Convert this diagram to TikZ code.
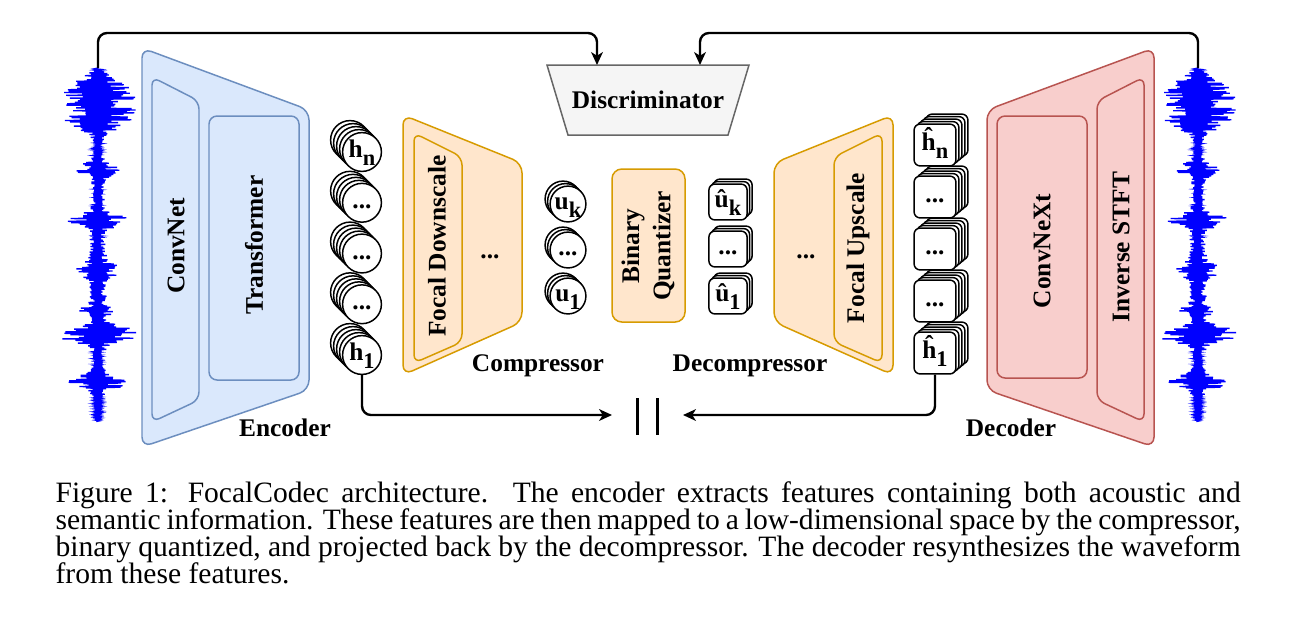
\documentclass[tikz,border=0pt]{standalone}
\usepackage{fontspec}
\setmainfont{Liberation Serif}
\usepackage{tikz}
\usetikzlibrary{arrows.meta,positioning,calc}
\definecolor{encfill}{HTML}{DAE8FC}
\definecolor{encline}{HTML}{6C8EBF}
\definecolor{cmpfill}{HTML}{FFE6CC}
\definecolor{cmpline}{HTML}{D79B00}
\definecolor{decfill}{HTML}{F8CECC}
\definecolor{decline}{HTML}{B85450}
\definecolor{disfill}{HTML}{F5F5F5}
\definecolor{disline}{HTML}{666666}
\definecolor{wavblue}{HTML}{0000FF}
\newcommand{\lblfont}{\fontsize{8.5}{10.5}\selectfont\bfseries}
\newcommand{\subs}[2]{#1\raisebox{-0.3em}{\fontsize{7.5}{8}\selectfont #2}}
\newcommand{\ddd}{...}
% waveform drawn as a zigzag around a vertical axis
\newcommand{\waveform}[2]{%
  \pgfmathsetseed{11}
  \draw[wave] (#1,68) coordinate (#2)
    \foreach \yv [count=\k] in {68.7,69.4,...,422}{
      -- ({#1+ifthenelse(mod(\k,2)==0,1,-1)*wenv(\yv)*(0.65+0.35*rand)},\yv)
    };
}

\begin{document}
\begin{tikzpicture}[x=0.335pt,y=-0.335pt,
  declare function={gb(\yv,\cv,\wv)=exp(-min(((\yv-\cv)/\wv)*((\yv-\cv)/\wv),9));
    gq(\yv,\cv,\wv)=exp(-(min(((\yv-\cv)/\wv)*((\yv-\cv)/\wv),3))^2);
    wenv(\yv)=3+6*gb(\yv,270,100)+36*gq(\yv,104,27)+18*gb(\yv,170,8)+26*gb(\yv,220,7)+18*gb(\yv,270,7)+12*gb(\yv,310,5)+40*gb(\yv,334,9)+29*gb(\yv,382,8);},
  lbl/.style={font=\lblfont,inner sep=0pt},
  rot/.style={lbl,rotate=90},
  wave/.style={wavblue,line width=0.45pt},
  encbox/.style={draw=encline,fill=encfill,line width=0.5pt},
  cmpbox/.style={draw=cmpline,fill=cmpfill,line width=0.5pt},
  decbox/.style={draw=decline,fill=decfill,line width=0.5pt},
  hcirc/.style={circle,draw,fill=white,line width=0.5pt,minimum size=13pt,inner sep=0pt,font=\lblfont,text height=6.3pt,text depth=2.5pt},
  ucirc/.style={hcirc,minimum size=12pt,inner sep=-0.5pt},
  hsq/.style={rectangle,draw,fill=white,line width=0.5pt,rounded corners=2pt,minimum width=14pt,minimum height=14pt,inner sep=0pt,font=\lblfont,text height=6.3pt,text depth=2.5pt},
  usq/.style={hsq,minimum width=12.8pt,minimum height=12pt},
  fb/.style={draw,line width=0.8pt,rounded corners=3pt,-{Stealth[length=4.3pt,width=3.9pt,inset=1.2pt]}},
  capt/.style={text width=397pt,align=justify,inner sep=0pt,font=\fontsize{9.9}{9.05}\selectfont}]

\fill[white] (0,0) rectangle (1297,638);
\useasboundingbox (0,0) rectangle (1297,638);

%Encoder
\draw[encbox,rounded corners=3.3pt] (142,48) -- (309,110) -- (309,390) -- (142,447) -- cycle;
\draw[encbox,rounded corners=2.7pt] (152,77) -- (199,101) -- (199,400) -- (152,422) -- cycle;
\draw[encbox,rounded corners=2.7pt] (209,116) rectangle (299,380);
\node[rot] (convnet) at (176,246) {ConvNet};
\node[rot] (transf) at (254,245) {Transformer};
\node[lbl] (enc) at (285,428) {Encoder};

%Compressor
\draw[cmpbox,rounded corners=3.3pt] (403,115) -- (522,163) -- (522,322) -- (403,375) -- cycle;
\draw[cmpbox,rounded corners=2.7pt] (414,133) -- (462,157) -- (462,342) -- (414,363) -- cycle;
\node[rot] (fdown) at (437,246) {Focal Downscale};
\node[lbl] (cdots) at (490,257) {\ddd};
\node[lbl] (comp) at (538,366) {Compressor};

%Quantizer
\draw[cmpbox,rounded corners=3.3pt] (612,169) rectangle (685,322);
\node[rot,align=center] (bq) at (648,246) {Binary\\Quantizer};

%Decompressor
\draw[cmpbox,rounded corners=3.3pt] (893,115) -- (774,163) -- (774,322) -- (893,375) -- cycle;
\draw[cmpbox,rounded corners=2.7pt] (882,133) -- (834,157) -- (834,342) -- (882,363) -- cycle;
\node[rot] (fup) at (858,248) {Focal Upscale};
\node[lbl] (ddots) at (806,257) {\ddd};
\node[lbl] (decomp) at (750,366) {Decompressor};

%Decoder
\draw[decbox,rounded corners=3.3pt] (1154,48) -- (987,110) -- (987,390) -- (1154,447) -- cycle;
\draw[decbox,rounded corners=2.7pt] (1144,77) -- (1097,101) -- (1097,400) -- (1144,422) -- cycle;
\draw[decbox,rounded corners=2.7pt] (997,116) rectangle (1087,378);
\node[rot] (cnext) at (1042,251) {ConvNeXt};
\node[rot] (istft) at (1121,247) {Inverse STFT};
\node[lbl] (dec) at (1011,428) {Decoder};

%Discriminator
\draw[draw=disline,fill=disfill,line width=0.5pt] (547,65) -- (749,65) -- (728,135) -- (568,135) -- cycle;
\node[lbl] (disc) at (648,100) {Discriminator};

%Waveforms
\waveform{98}{wavL}
\waveform{1198}{wavR}

%Stacks
\foreach \lab/\yy/\nm in {{\subs{h}{n}}/152/h5,{\ddd}/202.75/h4,{\ddd}/253.5/h3,{\ddd}/304.25/h2,{\subs{h}{1}}/355/h1}{
  \foreach \k in {4,3,2,1}
    \node[hcirc] at (362-3*\k,\yy-3*\k) {};
  \node[hcirc] (\nm) at (362,\yy) {\lab};
}
\foreach \lab/\yy/\nm in {{\subs{u}{k}}/204/uk,{\ddd}/250/um,{\subs{u}{1}}/296/u1}{
  \foreach \k in {2,1}
    \node[ucirc] at (568-2.5*\k,\yy-2.5*\k) {};
  \node[ucirc] (\nm) at (568,\yy) {\lab};
}
\foreach \lab/\yy/\nm in {{\subs{û}{k}}/202/qk,{\ddd}/249/qm,{\subs{û}{1}}/296/q1}{
  \foreach \k in {2,1}
    \node[usq] at (728+2.5*\k,\yy-2.5*\k) {};
  \node[usq] (\nm) at (728,\yy) {\lab};
}
\foreach \lab/\yy/\nm in {{\subs{ĥ}{n}}/145/g5,{\ddd}/197/g4,{\ddd}/249/g3,{\ddd}/301/g2,{\subs{ĥ}{1}}/353/g1}{
  \foreach \k in {4,3,2,1}
    \node[hsq] at (935+3*\k,\yy-2.5*\k) {};
  \node[hsq] (\nm) at (935,\yy) {\lab};
}

%Connectors
\coordinate (topbar) at (0,33);
\coordinate (disL) at (597,65);
\coordinate (disR) at (700,65);
\coordinate (eqL) at (612,415);
\coordinate (eqR) at (683,415);
\draw[fb] (wavL) -- (wavL |- topbar) -- (disL |- topbar) -- (disL);
\draw[fb] (wavR) -- (wavR |- topbar) -- (disR |- topbar) -- (disR);
\draw[fb] (h1.south) |- (eqL);
\draw[fb] (g1.south) |- (eqR);
\draw[line width=1pt] (637,398) -- (637,435) (657,398) -- (657,435);

%Caption
\node[capt,anchor=north west] (cap) at (55,481.5) {\fontsize{9.9}{9.05}\selectfont\baselineskip=9.05pt \lineskiplimit=-5pt \hyphenpenalty=10000 Figure 1: FocalCodec architecture. The encoder extracts features containing both acoustic and\linebreak semantic information. These features are then mapped to a low-dimensional space by the compressor,\linebreak binary quantized, and projected back by the decompressor. The decoder resynthesizes the waveform\linebreak from these features.\par};
\end{tikzpicture}
\end{document}
